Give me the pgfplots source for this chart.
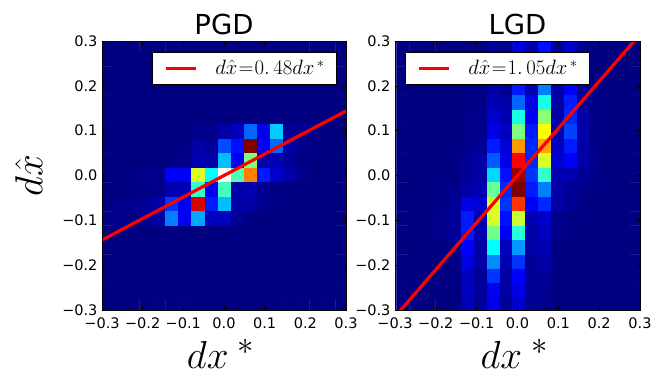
\documentclass[border=0pt]{standalone}
\usepackage{fontspec}
\setmainfont{DejaVu Sans}
\usepackage{pgfplots}
\pgfplotsset{compat=1.18}
% jet, with one extra white step at the very top for the saturated cell
\pgfplotsset{
  colormap={jetw}{rgb255(0pt)=(0,0,128) rgb255(10pt)=(0,0,255) rgb255(30pt)=(0,255,255)
    rgb255(50pt)=(255,255,0) rgb255(70pt)=(255,0,0) rgb255(80pt)=(128,0,0) rgb255(81pt)=(255,255,255)},
  panel/.style={
    scale only axis,width=244pt,height=269pt,
    xmin=-0.3,xmax=0.3,ymin=-0.3,ymax=0.3,
    xtick={-0.3,-0.2,...,0.3},ytick={-0.3,-0.2,...,0.3},
    xticklabels={−0.3,−0.2,−0.1,0.0,0.1,0.2,0.3},
    yticklabels={−0.3,−0.2,−0.1,0.0,0.1,0.2,0.3},
    tick align=inside,major tick length=4pt,
    tick style={black,line width=0.6pt},
    tick label style={font=\fontsize{14.5}{16}\selectfont},
    xticklabel style={yshift=-4pt},
    yticklabel style={xshift=-1pt},
    axis line style={black,line width=1pt},
    axis on top,
    colormap name=jetw,point meta min=0,point meta max=81,
    title style={font=\fontsize{27.5}{30}\selectfont,yshift=-3pt},
    % math stops growing at 24.88, so the big labels are scaled up
    xlabel style={font=\fontsize{24.88}{28}\selectfont,scale=1.57,xshift=-2pt,yshift=-1pt},
    ylabel style={font=\fontsize{24.88}{28}\selectfont,scale=1.57,yshift=7pt},
    legend cell align=left,
    legend style={draw=black,line width=1pt,fill=white,font=\fontsize{20.5}{22}\selectfont,
      inner xsep=12pt,inner ysep=8pt,nodes={inner sep=0pt}},
    legend image code/.code={\draw[red,line width=3.2pt] (0pt,0pt) -- (30pt,0pt);\path[draw=none] (0pt,0pt) -- (49pt,0pt);},
  },
  heat/.style={matrix plot*,mesh/cols=19,point meta=explicit,forget plot},
  fitline/.style={red,line width=3.2pt,mesh/check=false},
}
\begin{document}
\begin{tikzpicture}[x=1pt,y=1pt]
\useasboundingbox (0,0) rectangle (664,389);
\begin{axis}[panel,at={(102pt,79pt)},anchor=south west,
  title={PGD},xlabel={$dx^{\;*}$},ylabel={$d\hat{x}$},
  legend style={at={(0.963,0.959)},anchor=north east}]
\addplot[heat] table[row sep=\\,header=false,meta index=0,
  x expr={(mod(\coordindex,19)-9)*0.0322+0.001},y expr={(9-floor((\coordindex+0.5)/19))*0.0323+0.001}] {
0\\0\\0\\0\\0\\0\\0\\0\\0\\0\\0\\0\\0\\0\\0\\0\\0\\0\\0\\
0\\0\\0\\0\\0\\0\\0\\0\\0\\0\\0\\0\\0\\0\\0\\0\\0\\0\\0\\
0\\0\\0\\0\\0\\0\\0\\0\\0\\0\\0\\0\\0\\0\\0\\0\\0\\0\\0\\
0\\0\\0\\0\\0\\0\\0\\0\\0\\0\\0\\0\\0\\0\\0\\0\\0\\0\\0\\
0\\0\\0\\0\\0\\0\\0\\0\\0\\0\\0\\0\\0\\0\\0\\0\\0\\0\\0\\
0\\0\\0\\0\\0\\0\\0\\0\\0\\0\\0\\0\\0\\0\\0\\0\\0\\0\\0\\
0\\0\\0\\0\\0\\0\\0\\1\\1\\3\\5\\18\\8\\26\\2\\1\\1\\0\\0\\
0\\0\\0\\0\\0\\0\\.5\\3\\2\\16\\11\\80\\9\\18\\3\\1\\.5\\0\\0\\
0\\0\\0\\0\\0\\.5\\1\\4\\3\\25\\9\\40\\3\\4\\2\\.5\\0\\0\\0\\
0\\0\\.5\\1\\1\\10\\9\\47\\30\\81\\36\\60\\12\\6\\3\\1\\0\\0\\0\\
0\\0\\.5\\.5\\1\\4\\4\\34\\9\\35\\3\\4\\1.5\\.5\\.5\\0\\0\\0\\0\\
.5\\1\\1\\2\\3\\14\\9\\73\\12\\25\\3\\3\\1\\.5\\0\\0\\0\\0\\0\\
1\\1\\.5\\1\\3\\20\\9\\23\\5\\5\\1.5\\.5\\0\\0\\0\\0\\0\\0\\0\\
0\\0\\0\\0\\0\\0\\0\\0\\0\\0\\0\\0\\0\\0\\0\\0\\0\\0\\0\\
0\\0\\0\\0\\0\\0\\0\\0\\0\\0\\0\\0\\0\\0\\0\\0\\0\\0\\0\\
0\\0\\0\\0\\0\\0\\0\\0\\0\\0\\0\\0\\0\\0\\0\\0\\0\\0\\0\\
0\\0\\0\\0\\0\\0\\0\\0\\0\\0\\0\\0\\0\\0\\0\\0\\0\\0\\0\\
0\\0\\0\\0\\0\\0\\0\\0\\0\\0\\0\\0\\0\\0\\0\\0\\0\\0\\0\\
0\\0\\0\\0\\0\\0\\0\\0\\0\\0\\0\\0\\0\\0\\0\\0\\0\\0\\0\\
};
\addplot[fitline] coordinates {(-0.3,-0.144) (0.3,0.144)};
\addlegendentry{$d\hat{x}\mkern1mu{=}\mkern1mu0.\,48dx^{\,*}$}
\end{axis}
\begin{axis}[panel,at={(395pt,79pt)},anchor=south west,width=245pt,
  title={LGD},xlabel={$dx^{\;*}$},
  legend style={at={(0.796,0.959)},anchor=north east}]
\addplot[heat] table[row sep=\\,header=false,meta index=0,
  x expr={(mod(\coordindex,19)-9)*0.0316+0.004},y expr={(9-floor((\coordindex+0.5)/19))*0.0323+0.001}] {
0\\0\\0\\0\\0\\0\\0\\2\\1\\7\\3\\11\\2\\6\\1\\0\\0\\0\\0\\
0\\0\\0\\0\\0\\0\\0\\2\\1\\9\\3\\14\\2\\8\\1\\0\\0\\0\\0\\
0\\0\\0\\0\\0\\.5\\.5\\2\\1\\10\\3\\16\\2\\8\\1\\0\\0\\0\\0\\
0\\0\\0\\0\\0\\.5\\.5\\3\\2\\12\\4\\20\\3\\9\\2\\.5\\0\\0\\0\\
0\\0\\0\\0\\0\\.5\\.5\\4\\3\\18\\8\\32\\3\\12\\2\\.5\\0\\0\\0\\
0\\0\\0\\0\\0\\1\\1\\6\\4\\32\\9\\41\\3\\13\\3\\.5\\0\\0\\0\\
0\\0\\0\\0\\0\\1\\1\\8\\5\\40\\12\\50\\4\\15\\3\\.5\\0\\0\\0\\
0\\0\\0\\0\\.5\\1\\2\\12\\7\\58\\13\\57\\5\\12\\3\\.5\\0\\0\\0\\
0\\0\\0\\0\\.5\\2\\3\\17\\8\\70\\13\\47\\6\\9\\3\\1\\0\\0\\0\\
0\\0\\0\\.5\\.5\\2\\3\\27\\11\\78\\14\\34\\4\\4\\2\\.5\\0\\0\\0\\
0\\0\\0\\.5\\1\\3\\4\\38\\13\\80\\12\\20\\3\\2\\1\\.5\\0\\0\\0\\
0\\0\\.5\\.5\\2\\8\\7\\47\\14\\66\\9\\13\\3\\1.5\\.5\\0\\0\\0\\0\\
0\\0\\.5\\1\\2\\12\\4\\47\\11\\46\\4\\6\\1\\.5\\.5\\0\\0\\0\\0\\
0\\0\\.5\\1\\2\\12\\4\\39\\9\\33\\3\\5\\1\\.5\\0\\0\\0\\0\\0\\
0\\0\\0\\.5\\1\\10\\3\\30\\5\\22\\3\\4\\.5\\0\\0\\0\\0\\0\\0\\
0\\0\\0\\0\\.5\\8\\3\\21\\4\\14\\2\\3\\.5\\0\\0\\0\\0\\0\\0\\
0\\0\\0\\0\\.5\\5\\2\\14\\3\\10\\2\\2\\0\\0\\0\\0\\0\\0\\0\\
0\\0\\0\\0\\0\\5\\2\\9\\3\\8\\2\\1.5\\0\\0\\0\\0\\0\\0\\0\\
0\\0\\0\\0\\0\\4\\2\\8\\2\\6\\1.5\\1\\0\\0\\0\\0\\0\\0\\0\\
};
\addplot[fitline] coordinates {(-0.3,-0.315) (0.3,0.315)};
\addlegendentry{$d\hat{x}\mkern1mu{=}\mkern1mu1.\,05dx^{\,*}$}
\end{axis}
\end{tikzpicture}
\end{document}
